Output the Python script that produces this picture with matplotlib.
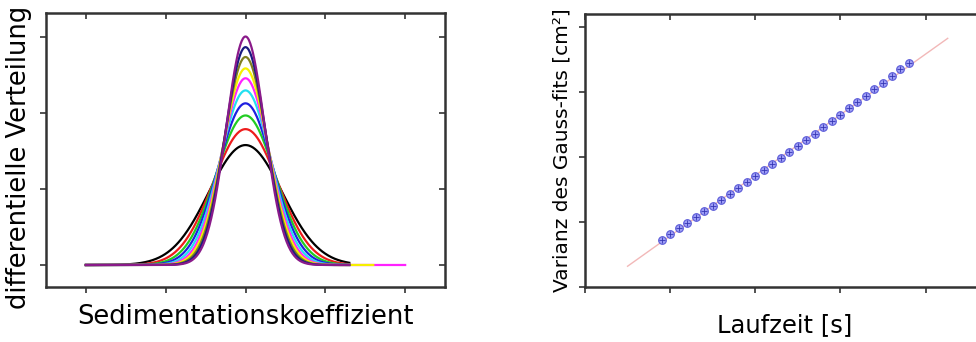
import matplotlib
matplotlib.use("Agg")
import matplotlib.pyplot as plt
import numpy as np

# left panel: gaussian fits (center, peak heights, widths)
center = 2.0
peaks = [1.58, 1.79, 1.97, 2.13, 2.30, 2.46, 2.59, 2.74, 2.87, 3.01]
sigmas = [0.46, 0.406, 0.369, 0.341, 0.316, 0.295, 0.280, 0.265, 0.253, 0.241]
x_end = [3.3, 3.3, 3.3, 3.3, 3.3, 4.0, 3.6, 3.3, 3.3, 3.3]
colors = ["black", "#ee1c1c", "#22cc22", "#1f1fe0", "#22e0f0",
          "#ff22ff", "#f5f000", "#808020", "#1a1a80", "#8a1a8a"]

# right panel: variance vs. run time
t = [0.9, 1.0, 1.1, 1.2, 1.3, 1.4, 1.5, 1.6, 1.7, 1.8, 1.9, 2.0, 2.1, 2.2, 2.3,
     2.4, 2.5, 2.6, 2.7, 2.8, 2.9, 3.0, 3.1, 3.2, 3.3, 3.4, 3.5, 3.6, 3.7, 3.8]
var = [0.728, 0.815, 0.903, 0.990, 1.077, 1.164, 1.251, 1.344, 1.436, 1.523,
       1.615, 1.703, 1.800, 1.892, 1.985, 2.077, 2.174, 2.267, 2.364, 2.462,
       2.559, 2.651, 2.754, 2.851, 2.949, 3.046, 3.144, 3.246, 3.354, 3.456]
fit_x = [0.5, 4.26]
fit_y = [0.32, 3.83]

spine_col = "#333333"

fig = plt.figure(figsize=(9.76, 3.42), dpi=100)
ax1 = fig.add_axes([0.0471, 0.1608, 0.4089, 0.8012])
ax2 = fig.add_axes([0.5994, 0.1608, 0.41, 0.7983])

for p, s, xe, c in zip(peaks, sigmas, x_end, colors):
    xs = np.linspace(0, xe, 400)
    ax1.plot(xs, p * np.exp(-0.5 * ((xs - center) / s) ** 2), color=c, lw=1.6)

ax1.set_xlim(-0.5, 4.5)
ax1.set_ylim(-0.29, 3.32)
ax1.set_xticks([0, 1, 2, 3, 4])
ax1.set_yticks([0, 1, 2, 3])
ax1.set_xlabel("Sedimentationskoeffizient", fontsize=18.5, labelpad=5)
ax1.set_ylabel("differentielle Verteilung", fontsize=18.5)
ax1.yaxis.set_label_coords(-0.035, 0.474)

ax2.plot(fit_x, fit_y, color="#f2b8b8", lw=1.0)
ax2.plot(t, var, "o", ms=5.5, mfc="#9d9df5", mec="#5a5ad8", mew=0.8)
ax2.plot(t, var, "+", ms=4.2, color="#3535b5", mew=0.6)
ax2.set_xlim(0, 4.7)
ax2.set_ylim(0, 4.205)
ax2.set_xticks([0, 1, 2, 3, 4])
ax2.set_yticks([0, 1, 2, 3, 4])
ax2.set_xlabel("Laufzeit [s]", fontsize=17.5, labelpad=11)
ax2.set_ylabel("Varianz des Gauss-fits [cm²]", fontsize=14.5, labelpad=2)

for ax in (ax1, ax2):
    ax.set_xticklabels([])
    ax.set_yticklabels([])
    for sp in ax.spines.values():
        sp.set_color(spine_col)
        sp.set_linewidth(1.8)
    ax.tick_params(axis="both", which="both", direction="out", length=4,
                   width=1.2, color=spine_col)
    ax.tick_params(top=True, right=True)

# ticks on top and right spines point inward
for ax in (ax1, ax2):
    for tk in ax.xaxis.get_major_ticks():
        tk.tick2line.set_marker(3)
    for tk in ax.yaxis.get_major_ticks():
        tk.tick2line.set_marker(0)

fig.savefig("out.png", dpi=100)
